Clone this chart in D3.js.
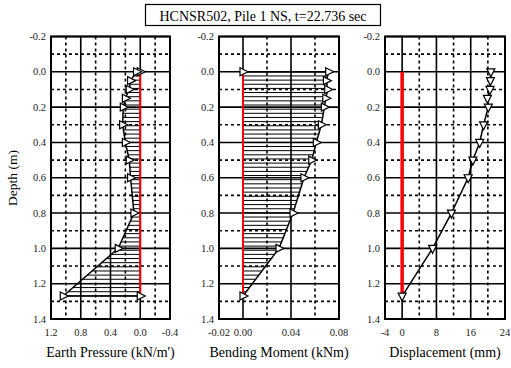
<!DOCTYPE html>
<html><head><meta charset="utf-8">
<script src="https://cdn.jsdelivr.net/npm/d3@7"></script>
<style>body{margin:0;background:#fff}svg{display:block}</style>
</head><body><svg id="c" width="511" height="368"></svg>
<script>
const title = "HCNSR502, Pile 1 NS, t=22.736 sec";
const depthTicks = [-0.2,0.0,0.2,0.4,0.6,0.8,1.0,1.2,1.4];
// Earth pressure (closed to zero at both ends)
const epDepth = [0.0, 0.0, 0.05, 0.1, 0.15, 0.2, 0.3, 0.4, 0.5, 0.6, 0.8, 1.0, 1.27, 1.27];
const epValue = [0.0, 0.05, 0.13, 0.148, 0.2, 0.228, 0.237, 0.2, 0.148, 0.13, 0.085, 0.296, 1.035, 0.0];
// Bending moment
const bmDepth = [0.0, 0.0, 0.05, 0.1, 0.15, 0.2, 0.3, 0.4, 0.5, 0.6, 0.8, 1.0, 1.27];
const bmValue = [0.0, 0.0714, 0.0695, 0.0706, 0.069, 0.0678, 0.0653, 0.0611, 0.0573, 0.0508, 0.0417, 0.030, 0.0];
// Displacement
const dsDepth = [0.0, 0.05, 0.1, 0.15, 0.2, 0.3, 0.4, 0.5, 0.6, 0.8, 1.0, 1.27];
const dsValue = [20.7, 20.6, 20.5, 19.9, 20.1, 19.0, 18.1, 16.5, 15.4, 11.5, 7.1, 0.0];

const epTicks = [1.2,0.8,0.4,0.0,-0.4];
const bmTicks = [-0.02,0.00,0.04,0.08];
const dsTicks = [-4,0,8,16,24];

const FONT = "'Liberation Serif', 'Times New Roman', serif";
const loc = d3.formatLocale({decimal:".",thousands:",",grouping:[3],currency:["",""],minus:"-"});
const svg = d3.select("#c");
const y = d3.scaleLinear().domain([-0.2,1.4]).range([36.5,319]);

function txt(sel){ return sel.append("text").style("font-family",FONT); }

svg.append("rect").attr("x",145.5).attr("y",4.5).attr("width",235).attr("height",21)
  .attr("fill","#fff").attr("stroke","#000").attr("stroke-width",1.2);
txt(svg).attr("x",263).attr("y",20.5).attr("text-anchor","middle")
  .style("font-size","14px").text(title);
txt(svg).attr("transform","translate(17,178) rotate(-90)").attr("text-anchor","middle")
  .style("font-size","13.5px").text("Depth (m)");

function panel(cfg){
  const x = d3.scaleLinear().domain(cfg.domain).range([cfg.x0,cfg.x1]);
  const g = svg.append("g");
  for(let i=0;i<=16;i++){
    const d = -0.2 + i*0.1;
    const major = i%2===0;
    g.append("line").attr("x1",cfg.x0).attr("x2",cfg.x1).attr("y1",y(d)).attr("y2",y(d))
      .attr("stroke","#000").attr("stroke-width",1.6)
      .attr("stroke-dasharray",major?null:"3,3");
  }
  cfg.minor.forEach(v=>{
    g.append("line").attr("x1",x(v)).attr("x2",x(v)).attr("y1",y(-0.2)).attr("y2",y(1.4))
      .attr("stroke","#000").attr("stroke-width",1.6).attr("stroke-dasharray","3,3");
  });
  cfg.ticks.forEach(v=>{
    g.append("line").attr("x1",x(v)).attr("x2",x(v)).attr("y1",y(-0.2)).attr("y2",y(1.4))
      .attr("stroke","#000").attr("stroke-width",1.6);
  });
  if(cfg.hatch){
    const pts = cfg.depth.map((d,i)=>[d,cfg.value[i]]);
    for(let d=0; d<=1.27+1e-9; d+=0.0235){
      let v = null;
      for(let i=0;i<pts.length-1;i++){
        const [d0,v0]=pts[i],[d1,v1]=pts[i+1];
        if(d1!==d0 && d>=Math.min(d0,d1)-1e-9 && d<=Math.max(d0,d1)+1e-9){
          v = v0 + (v1-v0)*(d-d0)/(d1-d0); break;
        }
      }
      if(v===null) continue;
      g.append("line").attr("x1",x(0)).attr("x2",x(v)).attr("y1",y(d)).attr("y2",y(d))
        .attr("stroke","#000").attr("stroke-width",1);
    }
  }
  g.append("line").attr("x1",x(0)).attr("x2",x(0)).attr("y1",y(0)).attr("y2",y(1.27))
    .attr("stroke","#ff0000").attr("stroke-width",cfg.redW);
  const line = d3.line().x((d,i)=>x(cfg.value[i])).y((d,i)=>y(cfg.depth[i]));
  g.append("path").datum(cfg.depth).attr("d",line).attr("fill","none")
    .attr("stroke","#000").attr("stroke-width",1.5);
  const tri = cfg.marker==="right" ? "M-3,-4L5,0L-3,4Z" : "M-4,-3L4,-3L0,5Z";
  g.selectAll(".m").data(cfg.depth).enter().append("path")
    .attr("transform",(d,i)=>`translate(${x(cfg.value[i])},${y(d)})`)
    .attr("d",tri).attr("fill","#fff").attr("stroke","#000").attr("stroke-width",1.2);
  g.append("rect").attr("x",cfg.x0).attr("y",y(-0.2)).attr("width",cfg.x1-cfg.x0)
    .attr("height",y(1.4)-y(-0.2)).attr("fill","none").attr("stroke","#000").attr("stroke-width",2);
  depthTicks.forEach(d=>{
    txt(g).attr("x",cfg.x0-5).attr("y",y(d)+3.5).attr("text-anchor","end")
      .style("font-size","10.5px").attr("fill","#222").text(loc.format(".1f")(d));
  });
  cfg.ticks.forEach(v=>{
    txt(g).attr("x",x(v)).attr("y",336).attr("text-anchor","middle")
      .style("font-size","10.5px").attr("fill","#222").text(loc.format(cfg.fmt)(v));
  });
  txt(g).attr("x",(cfg.x0+cfg.x1)/2).attr("y",357).attr("text-anchor","middle")
    .style("font-size","14px").text(cfg.label);
}

panel({x0:51,x1:170,domain:[1.2,-0.4],ticks:epTicks,minor:[1.0,0.6,0.2,-0.2],fmt:".1f",
  depth:epDepth,value:epValue,hatch:true,redW:2,marker:"right",label:"Earth Pressure (kN/m')"});
panel({x0:219,x1:339,domain:[-0.02,0.08],ticks:bmTicks,minor:[0.02,0.06],fmt:".2f",
  depth:bmDepth,value:bmValue,hatch:true,redW:2,marker:"right",label:"Bending Moment (kNm)"});
panel({x0:385,x1:505,domain:[-4,24],ticks:dsTicks,minor:[4,12,20],fmt:"d",
  depth:dsDepth,value:dsValue,hatch:false,redW:3.5,marker:"down",label:"Displacement (mm)"});
</script></body></html>
